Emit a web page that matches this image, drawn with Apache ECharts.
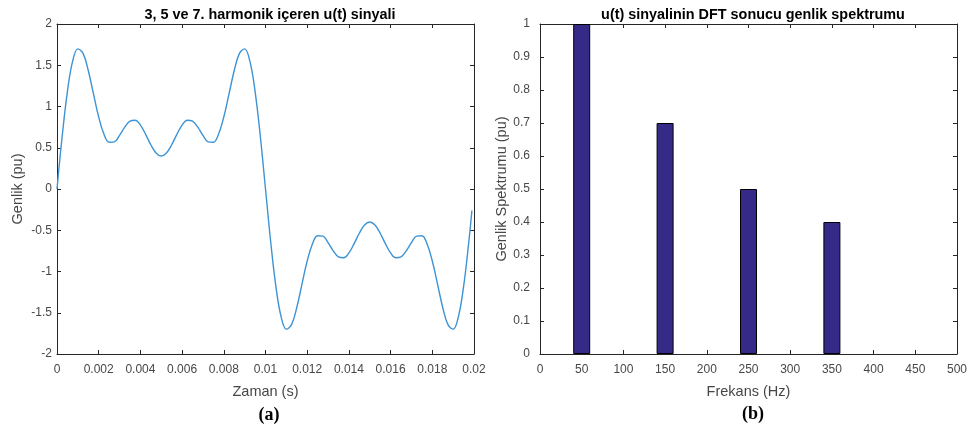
<!DOCTYPE html>
<html>
<head>
<meta charset="utf-8">
<script src="https://cdn.jsdelivr.net/npm/echarts@6/dist/echarts.min.js"></script>
<style>
html,body{margin:0;padding:0;background:#fff;}
#chart{width:970px;height:427px;}
</style>
</head>
<body>
<div id="chart"></div>
<script>
// ---- Data ----
var timeValues = [
  0, 0.00025, 0.0005, 0.00075, 0.001, 0.00125, 0.0015, 0.00175, 0.002, 0.00225,
  0.0025, 0.00275, 0.003, 0.00325, 0.0035, 0.00375, 0.004, 0.00425, 0.0045, 0.00475,
  0.005, 0.00525, 0.0055, 0.00575, 0.006, 0.00625, 0.0065, 0.00675, 0.007, 0.00725,
  0.0075, 0.00775, 0.008, 0.00825, 0.0085, 0.00875, 0.009, 0.00925, 0.0095, 0.00975,
  0.01, 0.01025, 0.0105, 0.01075, 0.011, 0.01125, 0.0115, 0.01175, 0.012, 0.01225,
  0.0125, 0.01275, 0.013, 0.01325, 0.0135, 0.01375, 0.014, 0.01425, 0.0145, 0.01475,
  0.015, 0.01525, 0.0155, 0.01575, 0.016, 0.01625, 0.0165, 0.01675, 0.017, 0.01725,
  0.0175, 0.01775, 0.018, 0.01825, 0.0185, 0.01875, 0.019, 0.01925, 0.0195, 0.01975,
  0.0199
];
var signalValues = [
  0, 0.642, 1.184, 1.549, 1.699, 1.644, 1.436, 1.152, 0.873, 0.666,
  0.566, 0.571, 0.649, 0.750, 0.823, 0.834, 0.775, 0.663, 0.536, 0.437,
  0.400, 0.437, 0.536, 0.663, 0.775, 0.834, 0.823, 0.750, 0.649, 0.571,
  0.566, 0.666, 0.873, 1.152, 1.436, 1.644, 1.699, 1.549, 1.184, 0.642,
  0, -0.642, -1.184, -1.549, -1.699, -1.644, -1.436, -1.152, -0.873, -0.666,
  -0.566, -0.571, -0.649, -0.750, -0.823, -0.834, -0.775, -0.663, -0.536, -0.437,
  -0.400, -0.437, -0.536, -0.663, -0.775, -0.834, -0.823, -0.750, -0.649, -0.571,
  -0.566, -0.666, -0.873, -1.152, -1.436, -1.644, -1.699, -1.549, -1.184, -0.642,
  -0.26
];
var freqValues = [50, 150, 250, 350];
var amplitudeValues = [1, 0.7, 0.5, 0.4];

var leftTitle = '3, 5 ve 7. harmonik içeren u(t) sinyali';
var rightTitle = 'u(t) sinyalinin DFT sonucu genlik spektrumu';

// ---- Build ----
var linePoints = timeValues.map(function (t, i) { return [t, signalValues[i]]; });
var barPoints = freqValues.map(function (f, i) { return [f, amplitudeValues[i]]; });

var FONT = 'Liberation Sans, Arial, sans-serif';
var SERIF = 'Liberation Serif, Times New Roman, serif';
var axisColor = '#262626';
var labelColor = '#474747';

function fmt(v) { return String(+v.toFixed(4)); }

function mainX(gridIndex, min, max, interval, name) {
  return {
    gridIndex: gridIndex, type: 'value', min: min, max: max, interval: interval,
    position: 'bottom',
    name: name, nameLocation: 'middle', nameGap: 30,
    nameTextStyle: { fontFamily: FONT, fontSize: 14.5, color: labelColor },
    axisLine: { show: true, onZero: false, lineStyle: { color: axisColor, width: 1 } },
    axisTick: { show: true, inside: true, length: 4, lineStyle: { color: axisColor } },
    axisLabel: { fontFamily: FONT, fontSize: 12, color: labelColor, margin: 10, formatter: fmt, showMaxLabel: true, showMinLabel: true },
    splitLine: { show: false }
  };
}
function mirrorX(gridIndex, min, max, interval) {
  return {
    gridIndex: gridIndex, type: 'value', min: min, max: max, interval: interval,
    position: 'top',
    axisLine: { show: true, onZero: false, lineStyle: { color: axisColor, width: 1 } },
    axisTick: { show: true, inside: true, length: 4, lineStyle: { color: axisColor } },
    axisLabel: { show: false }, splitLine: { show: false }
  };
}
function mainY(gridIndex, min, max, interval, name, gap, labelMargin) {
  return {
    gridIndex: gridIndex, type: 'value', min: min, max: max, interval: interval,
    position: 'left',
    name: name, nameLocation: 'middle', nameGap: gap, nameRotate: 90,
    nameTextStyle: { fontFamily: FONT, fontSize: 14.5, color: labelColor },
    axisLine: { show: true, onZero: false, lineStyle: { color: axisColor, width: 1 } },
    axisTick: { show: true, inside: true, length: 4, lineStyle: { color: axisColor } },
    axisLabel: { fontFamily: FONT, fontSize: 12, color: labelColor, margin: labelMargin, formatter: fmt, padding: [3, 0, 0, 0] },
    splitLine: { show: false }
  };
}
function mirrorY(gridIndex, min, max, interval) {
  return {
    gridIndex: gridIndex, type: 'value', min: min, max: max, interval: interval,
    position: 'right',
    axisLine: { show: true, onZero: false, lineStyle: { color: axisColor, width: 1 } },
    axisTick: { show: true, inside: true, length: 4, lineStyle: { color: axisColor } },
    axisLabel: { show: false }, splitLine: { show: false }
  };
}

var chart = echarts.init(document.getElementById('chart'), null, { renderer: 'canvas' });
chart.setOption({
  backgroundColor: '#ffffff',
  animation: false,
  title: [
    { text: leftTitle, left: 265, top: 3, textAlign: 'center',
      textStyle: { fontFamily: FONT, fontSize: 14.4, fontWeight: 'bold', color: '#000' } },
    { text: rightTitle, left: 748, top: 3, textAlign: 'center',
      textStyle: { fontFamily: FONT, fontSize: 14.4, fontWeight: 'bold', color: '#000' } },
    { text: '(a)', left: 264, top: 401, textAlign: 'center',
      textStyle: { fontFamily: SERIF, fontSize: 18, fontWeight: 'bold', color: '#000' } },
    { text: '(b)', left: 748, top: 400, textAlign: 'center',
      textStyle: { fontFamily: SERIF, fontSize: 18, fontWeight: 'bold', color: '#000' } }
  ],
  grid: [
    { left: 57, top: 24, width: 417, height: 330, containLabel: false },
    { left: 540, top: 24, width: 417, height: 330, containLabel: false }
  ],
  xAxis: [
    mainX(0, 0, 0.02, 0.002, 'Zaman (s)'),
    mirrorX(0, 0, 0.02, 0.002),
    mainX(1, 0, 500, 50, 'Frekans (Hz)'),
    mirrorX(1, 0, 500, 50)
  ],
  yAxis: [
    mainY(0, -2, 2, 0.5, 'Genlik (pu)', 32, 5),
    mirrorY(0, -2, 2, 0.5),
    mainY(1, 0, 1, 0.1, 'Genlik Spektrumu (pu)', 27, 10),
    mirrorY(1, 0, 1, 0.1)
  ],
  series: [
    {
      type: 'line', xAxisIndex: 0, yAxisIndex: 0, data: linePoints,
      smooth: 0.4, showSymbol: false, symbol: 'none',
      lineStyle: { color: '#3d93d4', width: 1.4 }
    },
    {
      type: 'bar', xAxisIndex: 2, yAxisIndex: 2, data: barPoints,
      barWidth: 17,
      itemStyle: { color: '#352A87', borderColor: '#000', borderWidth: 1 }
    }
  ]
});
</script>
</body>
</html>
